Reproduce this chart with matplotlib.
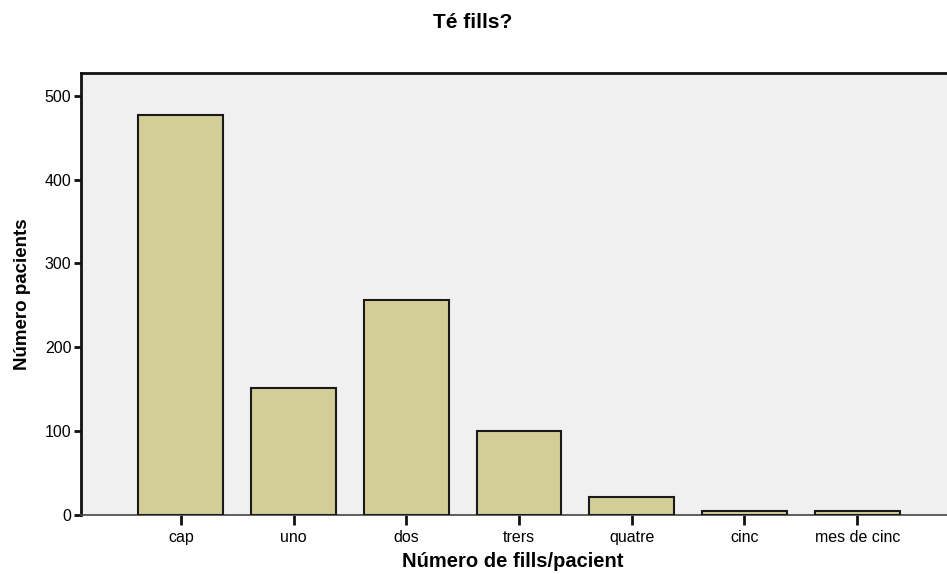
import numpy as np
import matplotlib
matplotlib.use("Agg")
import matplotlib.pyplot as plt

plt.rcParams['font.family'] = ['Liberation Sans', 'DejaVu Sans']

categories = ['cap', 'uno', 'dos', 'trers', 'quatre', 'cinc', 'mes de cinc']
counts = [477, 152, 256, 100, 22, 5, 5]

fig = plt.figure(figsize=(9.47, 5.74), dpi=100)
# plot area: left 81px, top 73px, bottom 515px, runs past the right edge
ax = fig.add_axes([81/947, 1-515/574, 876/947, (515-73)/574])
ax.set_facecolor('#F0F0F0')

ind = np.arange(len(categories))
ax.bar(ind, counts, 0.75, color='#D3CE98', edgecolor='#1a1a1a', linewidth=1.5, zorder=3)

ax.set_xlim(-0.885, len(categories) - 1 + 0.885)
ax.set_ylim(0, 527)
ax.set_yticks([0, 100, 200, 300, 400, 500])
ax.set_xticks(ind)
ax.set_xticklabels(categories)

for s in ['left', 'top']:
    ax.spines[s].set_linewidth(2)
    ax.spines[s].set_color('#111111')
ax.spines['right'].set_visible(False)
ax.spines['bottom'].set_linewidth(1.2)
ax.spines['bottom'].set_color('#444444')

ax.tick_params(axis='y', length=5, width=2, pad=2, labelsize=11.5, color='#111111')
ax.tick_params(axis='x', length=7, width=2, pad=4, labelsize=11.5, color='#111111')

ax.set_xlabel('Número de fills/pacient', fontsize=14.5, fontweight='bold')
ax.xaxis.label.set_va('baseline')
ax.xaxis.set_label_coords((513 - 81) / 876, -(567 - 515) / 442)
ax.set_ylabel('Número pacients', fontsize=13.5, fontweight='bold', labelpad=10)
fig.text(473/947, 1-23/574, 'Té fills?', ha='center', va='center', fontsize=15, fontweight='bold')

fig.savefig('out.png', dpi=100)
